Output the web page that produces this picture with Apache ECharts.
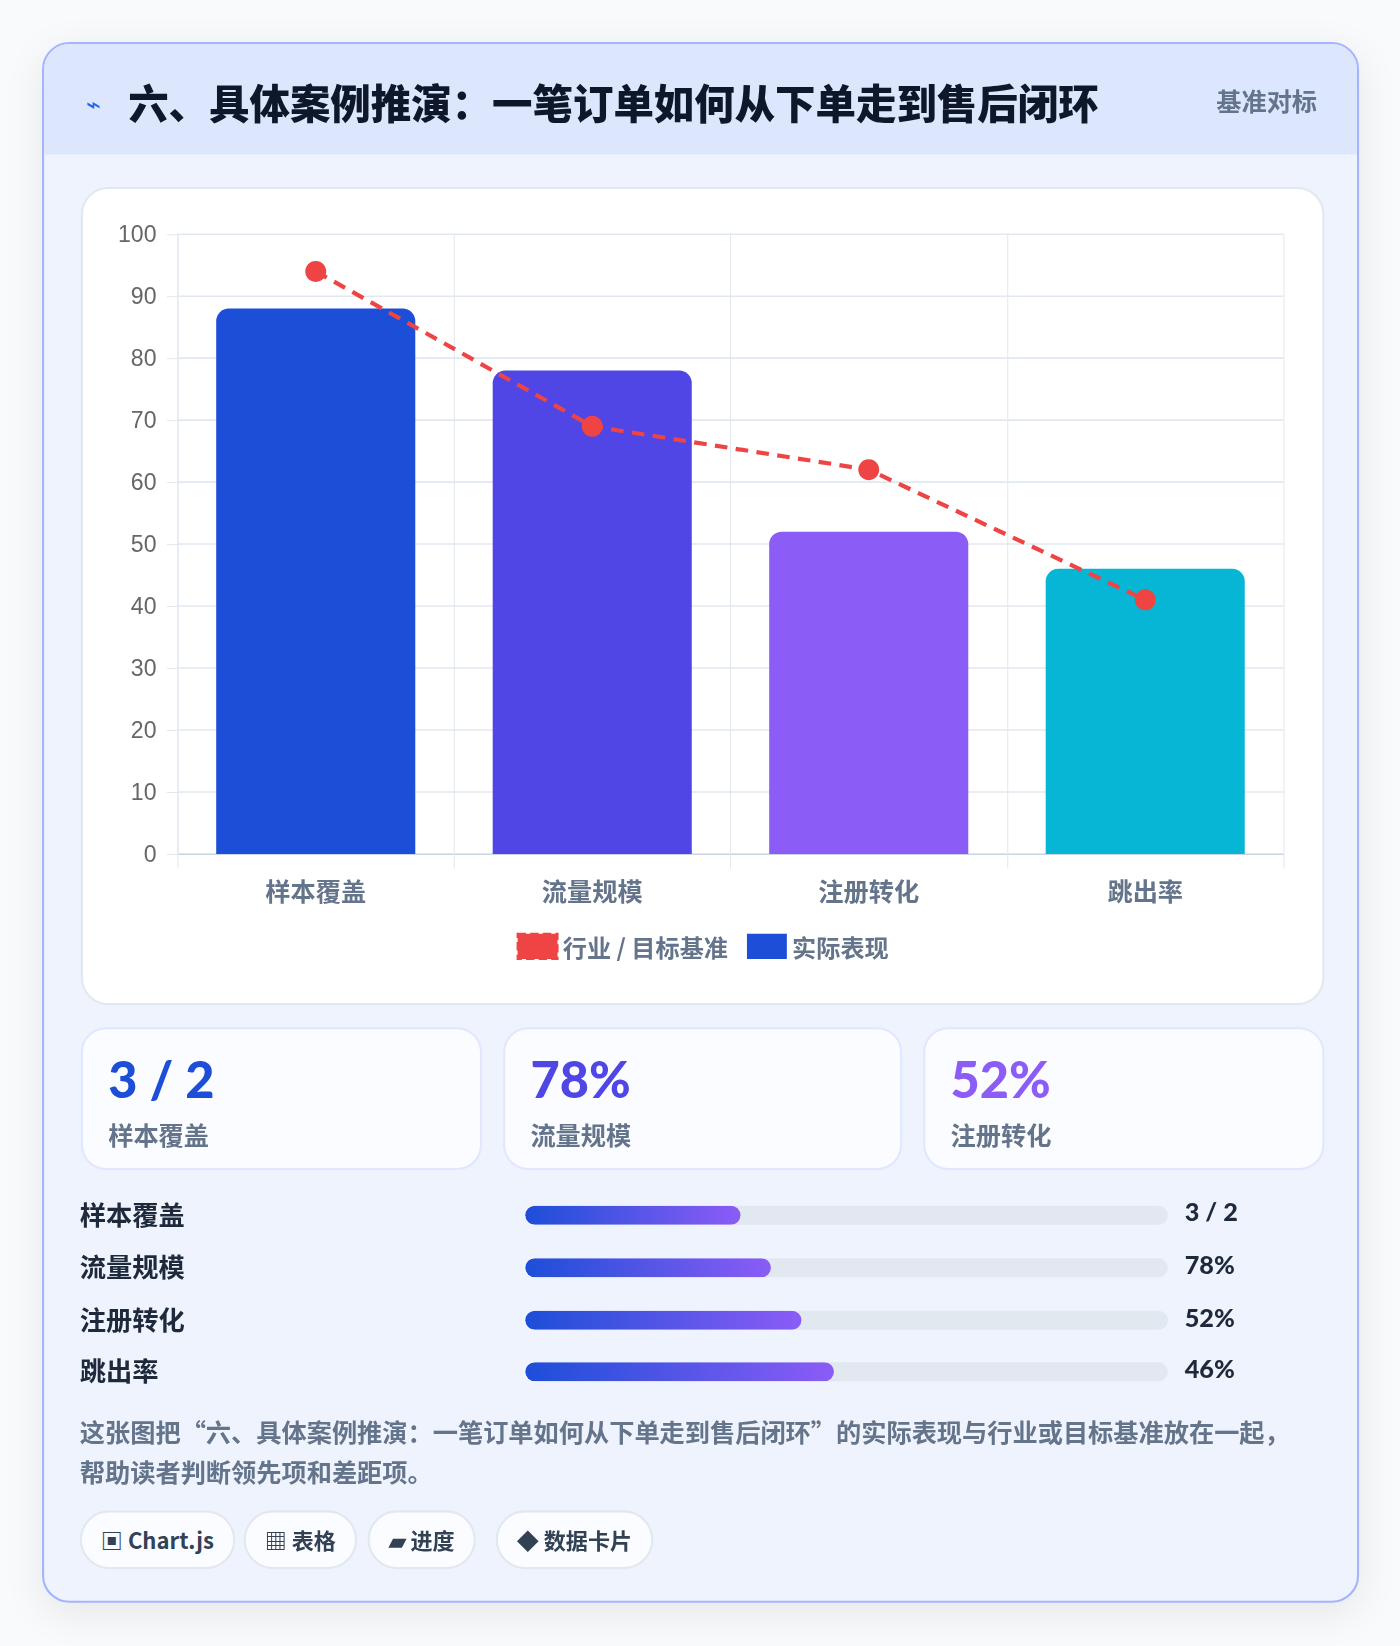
<!DOCTYPE html>
<html><head><meta charset="utf-8">
<script src="https://cdn.jsdelivr.net/npm/echarts@6/dist/echarts.min.js"></script>
<style>
*{box-sizing:border-box;margin:0;padding:0}
html,body{width:1400px;height:1646px;background:#f8fafc;overflow:hidden}
body{font-family:"Noto Sans CJK SC","Noto Sans",sans-serif;position:relative}
#wrap{position:absolute;left:0;top:0;width:1333px;height:1568px;transform:scale(1.0503);transform-origin:0 0}
.card{position:absolute;left:40px;top:40px;width:1254px;height:1486px;border:2px solid #a5b4fc;border-radius:26px;background:#eef3fe;overflow:hidden;box-shadow:0 10px 40px rgba(0,0,0,.08)}
.head{height:105px;background:#dce7fd;position:relative}
.head .t{position:absolute;left:80px;top:26px;font-size:38.5px;font-weight:900;color:#0f172a}
.head .ic{position:absolute;left:40px;top:38px;font-size:24px;color:#2563eb}
.head .r{position:absolute;right:38px;top:36px;font-size:24px;font-weight:700;color:#64748b}
.panel{position:absolute;left:35px;top:136px;width:1184px;height:779px;background:#fff;border:2px solid #e2e8f0;border-radius:26px}
#chart{position:absolute;left:0;top:0;width:1180px;height:775px}
.kpi{position:absolute;top:936px;height:136px;background:#fbfcff;border:2px solid #e0e7ff;border-radius:24px}
.kpi .v{position:absolute;left:24px;top:18px;font-size:48px;font-weight:900;font-family:"Lato","Noto Sans CJK SC",sans-serif}
.kpi .l{position:absolute;left:24px;top:82px;font-size:24px;font-weight:700;color:#64748b}
.row{position:absolute;left:34px;width:1180px;height:40px}
.row .l{position:absolute;left:0;top:0;font-size:25px;font-weight:700;color:#1e293b}
.row .tr{position:absolute;left:424px;top:11px;width:612px;height:18px;border-radius:9px;background:#e2e8f0;overflow:hidden}
.row .f{height:100%;border-radius:9px;background:linear-gradient(90deg,#1d4ed8,#8b5cf6)}
.row .v{position:absolute;left:1052px;top:2px;font-size:24px;font-weight:900;color:#1e293b;font-family:"Lato",sans-serif}
.desc{position:absolute;left:34px;top:1302px;width:1165px;font-size:24px;font-weight:700;color:#64748b;line-height:38px}
.chip{position:absolute;top:1396px;height:56px;border:2px solid #e2e8f0;border-radius:28px;background:#fbfcff;font-size:21px;font-weight:700;color:#334155;line-height:52px;padding:0 18px}
</style></head><body>
<div id="wrap">
<div class="card">
 <div class="head"><span class="ic">⌁</span><span class="t">六、具体案例推演：一笔订单如何从下单走到售后闭环</span><span class="r">基准对标</span></div>
 <div class="panel"><div id="chart"></div></div>
 <div class="kpi" style="left:35px;width:382px"><div class="v" style="color:#1d4ed8">3 / 2</div><div class="l">样本覆盖</div></div>
 <div class="kpi" style="left:437px;width:380px"><div class="v" style="color:#4f46e5">78%</div><div class="l">流量规模</div></div>
 <div class="kpi" style="left:837px;width:382px"><div class="v" style="color:#8b5cf6">52%</div><div class="l">注册转化</div></div>
 <div id="rows"></div>
 <div class="desc">这张图把“六、具体案例推演：一笔订单如何从下单走到售后闭环”的实际表现与行业或目标基准放在一起，帮助读者判断领先项和差距项。</div>
 <div class="chip" style="left:34px">▣ Chart.js</div>
 <div class="chip" style="left:190px">▦ 表格</div>
 <div class="chip" style="left:308px">▰ 进度</div>
 <div class="chip" style="left:430px">◆ 数据卡片</div>
</div>
</div>
<script>
const categories=["样本覆盖","流量规模","注册转化","跳出率"];
const actual=[88,78,52,46];
const benchmark=[94,69,62,41];
const barColors=["#1d4ed8","#4f46e5","#8b5cf6","#06b6d4"];
const progressLabels=["3 / 2","78%","52%","46%"];
const progressFill=[33.5,38.3,43,48];

const rows=document.getElementById('rows');
const tops=[1095,1145,1195,1244];
categories.forEach((c,i)=>{
 const d=document.createElement('div');d.className='row';d.style.top=tops[i]+'px';
 d.innerHTML=`<div class="l">${c}</div><div class="tr"><div class="f" style="width:${progressFill[i]}%"></div></div><div class="v">${progressLabels[i]}</div>`;
 rows.appendChild(d);
});
document.querySelector('.card').appendChild(rows);

const ch=echarts.init(document.getElementById('chart'),null,{renderer:'svg'});
ch.setOption({
 animation:false,
 grid:{left:90,right:37,top:43,bottom:142},
 legend:{bottom:36,itemGap:18,textStyle:{fontSize:23,fontWeight:'bold',color:'#64748b',fontFamily:'Noto Sans CJK SC'},
  data:[{name:'行业 / 目标基准',icon:'rect',itemStyle:{color:'#ef4444',borderColor:'#ef4444',borderWidth:2,borderType:'dashed'}},{name:'实际表现',icon:'rect',itemStyle:{color:'#1d4ed8'}}],
  itemWidth:38,itemHeight:24},
 xAxis:{type:'category',data:categories,axisTick:{show:true,length:14,lineStyle:{color:'#e2e8f0'}},
  axisLine:{lineStyle:{color:'#cbd5e1'}},splitLine:{show:true,lineStyle:{color:'#e2e8f0'}},
  axisLabel:{fontSize:24,fontWeight:'bold',color:'#64748b',margin:22,fontFamily:'Noto Sans CJK SC'}},
 yAxis:{type:'value',min:0,max:100,interval:10,axisLine:{show:true,lineStyle:{color:'#e2e8f0'}},axisTick:{show:true,length:10,lineStyle:{color:'#e2e8f0'}},
  splitLine:{lineStyle:{color:'#e2e8f0',width:1.5}},axisLabel:{fontSize:22,color:'#666',margin:20,fontFamily:'Liberation Sans'}},
 series:[
  {name:'实际表现',type:'bar',barWidth:'72%',z:2,
   data:actual.map((v,i)=>({value:v,itemStyle:{color:barColors[i],borderRadius:[12,12,0,0]}}))},
  {name:'行业 / 目标基准',type:'line',z:3,data:benchmark,symbol:'circle',symbolSize:20,
   lineStyle:{color:'#ef4444',width:4,type:[12,8]},itemStyle:{color:'#ef4444'}}
 ]
});
</script></body></html>
